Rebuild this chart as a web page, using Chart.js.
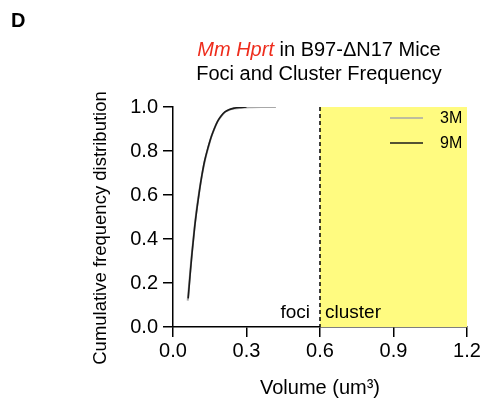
<!DOCTYPE html>
<html>
<head>
<meta charset="utf-8">
<script src="https://cdn.jsdelivr.net/npm/chart.js@4.4.1/dist/chart.umd.min.js"></script>
<style>
html,body{margin:0;padding:0;background:#fff;}
#wrap{width:485px;height:403px;position:relative;}
</style>
</head>
<body>
<div id="wrap"><canvas id="c" width="485" height="403"></canvas></div>
<script>
// ---- data ----
const seriesNames = ["3M", "9M"];
const x3M = [0.060,0.068,0.075,0.085,0.095,0.105,0.115,0.125,0.135,0.145,0.155,0.165,0.180,0.195,0.210,0.230,0.250,0.280,0.320,0.360,0.420];
const y3M = [0.12,0.22,0.31,0.42,0.52,0.60,0.67,0.73,0.78,0.82,0.86,0.89,0.93,0.955,0.975,0.987,0.993,0.997,0.999,1.0,1.0];
const x9M = [0.062,0.070,0.078,0.088,0.098,0.108,0.118,0.128,0.138,0.148,0.158,0.168,0.182,0.197,0.212,0.230,0.250,0.270,0.300];
const y9M = [0.13,0.24,0.34,0.45,0.54,0.62,0.69,0.75,0.795,0.835,0.87,0.90,0.935,0.96,0.978,0.989,0.995,0.998,1.0];
const xTicks = [0.0, 0.3, 0.6, 0.9, 1.2];
const yTicks = [0.0, 0.2, 0.4, 0.6, 0.8, 1.0];
const threshold = 0.6;
const regionLabels = ["foci", "cluster"];

const FONT = "'Liberation Sans', Arial, Helvetica, sans-serif";
const pts = (xs, ys) => xs.map((x, i) => ({x: x, y: ys[i]}));

const decor = {
  id: 'decor',
  beforeDatasetsDraw(chart) {
    const {ctx, scales: {x, y}} = chart;
    const x0 = x.getPixelForValue(threshold), x1 = x.getPixelForValue(x.max);
    const yt = y.getPixelForValue(1), yb = y.getPixelForValue(0);
    ctx.save();
    ctx.fillStyle = '#fffb80';
    ctx.fillRect(x0, yt, x1 - x0, yb - yt);
    ctx.strokeStyle = '#000';
    ctx.lineWidth = 1.5;
    ctx.setLineDash([4, 3]);
    ctx.beginPath();
    ctx.moveTo(x0, yt);
    ctx.lineTo(x0, yb);
    ctx.stroke();
    ctx.restore();
  },
  afterDraw(chart) {
    const {ctx, scales: {x, y}, chartArea} = chart;
    ctx.save();
    ctx.fillStyle = '#000';
    // panel letter
    ctx.font = "bold 20px " + FONT;
    ctx.textAlign = 'left'; ctx.textBaseline = 'alphabetic';
    ctx.fillText('D', 11, 27);
    // title
    const cx = 319;
    const p1 = 'Mm Hprt', p2 = ' in B97-\u0394N17 Mice';
    ctx.font = "italic 20px " + FONT;
    const w1 = ctx.measureText(p1).width;
    ctx.font = "20px " + FONT;
    const w2 = ctx.measureText(p2).width;
    let sx = cx - (w1 + w2) / 2;
    ctx.font = "italic 20px " + FONT;
    ctx.fillStyle = '#ee2c1c';
    ctx.fillText(p1, sx, 56);
    ctx.font = "20px " + FONT;
    ctx.fillStyle = '#000';
    ctx.fillText(p2, sx + w1, 56);
    ctx.textAlign = 'center';
    ctx.fillText('Foci and Cluster Frequency', cx, 80);
    // region labels
    const xt = x.getPixelForValue(threshold);
    ctx.font = "19px " + FONT;
    ctx.textAlign = 'right';
    ctx.fillText(regionLabels[0], xt - 10, 318);
    ctx.textAlign = 'left';
    ctx.fillText(regionLabels[1], xt + 5, 318);
    // axis titles
    ctx.font = "20px " + FONT;
    ctx.textAlign = 'center';
    ctx.fillText('Volume (um\u00B3)', (chartArea.left + chartArea.right) / 2, 394);
    ctx.font = "18.5px " + FONT;
    ctx.save();
    ctx.translate(106, 228);
    ctx.rotate(-Math.PI / 2);
    ctx.fillText('Cumulative frequency distribution', 0, 0);
    ctx.restore();
    // legend
    ctx.font = "16px " + FONT;
    ctx.textAlign = 'left';
    ctx.textBaseline = 'middle';
    chart.data.datasets.forEach((ds, i) => {
      const ly = 118 + i * 25;
      ctx.strokeStyle = ds.borderColor;
      ctx.lineWidth = 1.5;
      ctx.setLineDash([]);
      ctx.beginPath();
      ctx.moveTo(390, ly); ctx.lineTo(423, ly);
      ctx.stroke();
      ctx.fillStyle = '#000';
      ctx.fillText(ds.label, 440, ly + 1);
    });
    ctx.restore();
  }
};

new Chart(document.getElementById('c'), {
  type: 'line',
  data: {
    datasets: [
      {label: seriesNames[0], data: pts(x3M, y3M), borderColor: '#a8a8a8', borderWidth: 2, pointRadius: 0, cubicInterpolationMode: 'monotone', order: 2},
      {label: seriesNames[1], data: pts(x9M, y9M), borderColor: '#1a1a1a', borderWidth: 1.6, pointRadius: 0, cubicInterpolationMode: 'monotone', order: 1}
    ]
  },
  options: {
    responsive: false,
    animation: false,
    devicePixelRatio: 1,
    layout: {padding: {top: 107, right: 18, left: 0, bottom: 0}},
    plugins: {legend: {display: false}, title: {display: false}, tooltip: {enabled: false}},
    scales: {
      x: {
        type: 'linear', min: 0, max: 1.2,
        afterBuildTicks: s => { s.ticks = xTicks.map(v => ({value: v})); },
        afterFit: s => { s.height = 76; },
        grid: {drawOnChartArea: false, drawTicks: true, tickLength: 10, color: '#000', lineWidth: 1.5},
        border: {display: true, color: '#000', width: 1.5},
        ticks: {color: '#000', padding: 2, font: {size: 20, family: FONT}, callback: v => v.toFixed(1), maxRotation: 0}
      },
      y: {
        type: 'linear', min: 0, max: 1,
        afterBuildTicks: s => { s.ticks = yTicks.map(v => ({value: v})); },
        afterFit: s => { s.width = 173; },
        grid: {drawOnChartArea: false, drawTicks: true, tickLength: 10, color: '#000', lineWidth: 1.5},
        border: {display: true, color: '#000', width: 1.5},
        ticks: {color: '#000', padding: 5, font: {size: 20, family: FONT}, callback: v => v.toFixed(1)}
      }
    }
  },
  plugins: [decor]
});
</script>
</body>
</html>
